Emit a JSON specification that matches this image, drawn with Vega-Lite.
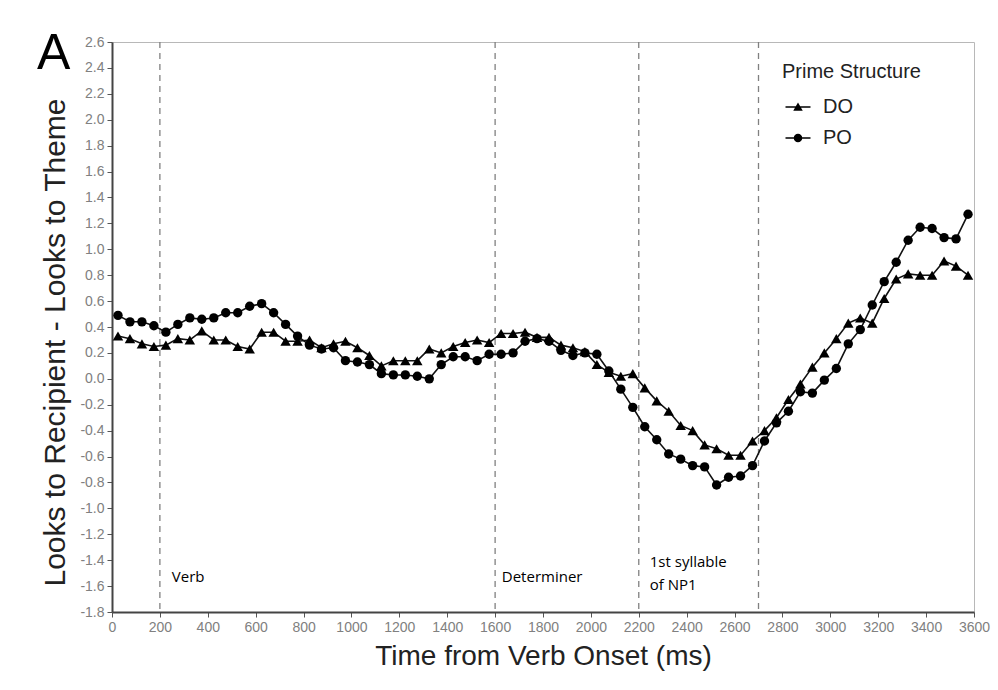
{
  "$schema": "https://vega.github.io/schema/vega-lite/v6.json",
  "width": 862,
  "height": 570,
  "autosize": "none",
  "padding": {"left": 112, "top": 42, "right": 24, "bottom": 78},
  "background": "white",
  "title": {"text": "A", "anchor": "start", "frame": "group", "font": "Liberation Sans", "fontSize": 50, "fontWeight": "normal", "color": "#000000", "baseline": "alphabetic", "offset": -84, "dx": -75},
  "data": {"values": [
    {"t": 25, "v": 0.33, "s": "DO"}, {"t": 75, "v": 0.31, "s": "DO"}, {"t": 125, "v": 0.27, "s": "DO"}, {"t": 175, "v": 0.25, "s": "DO"},
    {"t": 225, "v": 0.26, "s": "DO"}, {"t": 275, "v": 0.31, "s": "DO"}, {"t": 325, "v": 0.30, "s": "DO"}, {"t": 375, "v": 0.37, "s": "DO"},
    {"t": 425, "v": 0.30, "s": "DO"}, {"t": 475, "v": 0.30, "s": "DO"}, {"t": 525, "v": 0.25, "s": "DO"}, {"t": 575, "v": 0.23, "s": "DO"},
    {"t": 625, "v": 0.36, "s": "DO"}, {"t": 675, "v": 0.36, "s": "DO"}, {"t": 725, "v": 0.29, "s": "DO"}, {"t": 775, "v": 0.29, "s": "DO"},
    {"t": 825, "v": 0.30, "s": "DO"}, {"t": 875, "v": 0.24, "s": "DO"}, {"t": 925, "v": 0.27, "s": "DO"}, {"t": 975, "v": 0.29, "s": "DO"},
    {"t": 1025, "v": 0.24, "s": "DO"}, {"t": 1075, "v": 0.18, "s": "DO"}, {"t": 1125, "v": 0.10, "s": "DO"}, {"t": 1175, "v": 0.14, "s": "DO"},
    {"t": 1225, "v": 0.14, "s": "DO"}, {"t": 1275, "v": 0.14, "s": "DO"}, {"t": 1325, "v": 0.23, "s": "DO"}, {"t": 1375, "v": 0.20, "s": "DO"},
    {"t": 1425, "v": 0.25, "s": "DO"}, {"t": 1475, "v": 0.28, "s": "DO"}, {"t": 1525, "v": 0.30, "s": "DO"}, {"t": 1575, "v": 0.28, "s": "DO"},
    {"t": 1625, "v": 0.35, "s": "DO"}, {"t": 1675, "v": 0.35, "s": "DO"}, {"t": 1725, "v": 0.36, "s": "DO"}, {"t": 1775, "v": 0.32, "s": "DO"},
    {"t": 1825, "v": 0.32, "s": "DO"}, {"t": 1875, "v": 0.26, "s": "DO"}, {"t": 1925, "v": 0.24, "s": "DO"}, {"t": 1975, "v": 0.21, "s": "DO"},
    {"t": 2025, "v": 0.11, "s": "DO"}, {"t": 2075, "v": 0.05, "s": "DO"}, {"t": 2125, "v": 0.02, "s": "DO"}, {"t": 2175, "v": 0.04, "s": "DO"},
    {"t": 2225, "v": -0.07, "s": "DO"}, {"t": 2275, "v": -0.17, "s": "DO"}, {"t": 2325, "v": -0.25, "s": "DO"}, {"t": 2375, "v": -0.36, "s": "DO"},
    {"t": 2425, "v": -0.40, "s": "DO"}, {"t": 2475, "v": -0.51, "s": "DO"}, {"t": 2525, "v": -0.54, "s": "DO"}, {"t": 2575, "v": -0.59, "s": "DO"},
    {"t": 2625, "v": -0.59, "s": "DO"}, {"t": 2675, "v": -0.48, "s": "DO"}, {"t": 2725, "v": -0.40, "s": "DO"}, {"t": 2775, "v": -0.30, "s": "DO"},
    {"t": 2825, "v": -0.16, "s": "DO"}, {"t": 2875, "v": -0.04, "s": "DO"}, {"t": 2925, "v": 0.09, "s": "DO"}, {"t": 2975, "v": 0.20, "s": "DO"},
    {"t": 3025, "v": 0.31, "s": "DO"}, {"t": 3075, "v": 0.43, "s": "DO"}, {"t": 3125, "v": 0.47, "s": "DO"}, {"t": 3175, "v": 0.43, "s": "DO"},
    {"t": 3225, "v": 0.62, "s": "DO"}, {"t": 3275, "v": 0.77, "s": "DO"}, {"t": 3325, "v": 0.81, "s": "DO"}, {"t": 3375, "v": 0.80, "s": "DO"},
    {"t": 3425, "v": 0.80, "s": "DO"}, {"t": 3475, "v": 0.91, "s": "DO"}, {"t": 3525, "v": 0.87, "s": "DO"}, {"t": 3575, "v": 0.80, "s": "DO"},
    {"t": 25, "v": 0.49, "s": "PO"}, {"t": 75, "v": 0.44, "s": "PO"}, {"t": 125, "v": 0.44, "s": "PO"}, {"t": 175, "v": 0.41, "s": "PO"},
    {"t": 225, "v": 0.36, "s": "PO"}, {"t": 275, "v": 0.42, "s": "PO"}, {"t": 325, "v": 0.47, "s": "PO"}, {"t": 375, "v": 0.46, "s": "PO"},
    {"t": 425, "v": 0.47, "s": "PO"}, {"t": 475, "v": 0.51, "s": "PO"}, {"t": 525, "v": 0.51, "s": "PO"}, {"t": 575, "v": 0.56, "s": "PO"},
    {"t": 625, "v": 0.58, "s": "PO"}, {"t": 675, "v": 0.51, "s": "PO"}, {"t": 725, "v": 0.42, "s": "PO"}, {"t": 775, "v": 0.33, "s": "PO"},
    {"t": 825, "v": 0.26, "s": "PO"}, {"t": 875, "v": 0.23, "s": "PO"}, {"t": 925, "v": 0.24, "s": "PO"}, {"t": 975, "v": 0.14, "s": "PO"},
    {"t": 1025, "v": 0.13, "s": "PO"}, {"t": 1075, "v": 0.11, "s": "PO"}, {"t": 1125, "v": 0.04, "s": "PO"}, {"t": 1175, "v": 0.03, "s": "PO"},
    {"t": 1225, "v": 0.03, "s": "PO"}, {"t": 1275, "v": 0.02, "s": "PO"}, {"t": 1325, "v": 0.00, "s": "PO"}, {"t": 1375, "v": 0.11, "s": "PO"},
    {"t": 1425, "v": 0.17, "s": "PO"}, {"t": 1475, "v": 0.17, "s": "PO"}, {"t": 1525, "v": 0.14, "s": "PO"}, {"t": 1575, "v": 0.19, "s": "PO"},
    {"t": 1625, "v": 0.19, "s": "PO"}, {"t": 1675, "v": 0.20, "s": "PO"}, {"t": 1725, "v": 0.29, "s": "PO"}, {"t": 1775, "v": 0.31, "s": "PO"},
    {"t": 1825, "v": 0.29, "s": "PO"}, {"t": 1875, "v": 0.22, "s": "PO"}, {"t": 1925, "v": 0.18, "s": "PO"}, {"t": 1975, "v": 0.20, "s": "PO"},
    {"t": 2025, "v": 0.19, "s": "PO"}, {"t": 2075, "v": 0.06, "s": "PO"}, {"t": 2125, "v": -0.08, "s": "PO"}, {"t": 2175, "v": -0.22, "s": "PO"},
    {"t": 2225, "v": -0.37, "s": "PO"}, {"t": 2275, "v": -0.47, "s": "PO"}, {"t": 2325, "v": -0.58, "s": "PO"}, {"t": 2375, "v": -0.62, "s": "PO"},
    {"t": 2425, "v": -0.67, "s": "PO"}, {"t": 2475, "v": -0.68, "s": "PO"}, {"t": 2525, "v": -0.82, "s": "PO"}, {"t": 2575, "v": -0.76, "s": "PO"},
    {"t": 2625, "v": -0.75, "s": "PO"}, {"t": 2675, "v": -0.67, "s": "PO"}, {"t": 2725, "v": -0.48, "s": "PO"}, {"t": 2775, "v": -0.34, "s": "PO"},
    {"t": 2825, "v": -0.25, "s": "PO"}, {"t": 2875, "v": -0.10, "s": "PO"}, {"t": 2925, "v": -0.11, "s": "PO"}, {"t": 2975, "v": -0.01, "s": "PO"},
    {"t": 3025, "v": 0.08, "s": "PO"}, {"t": 3075, "v": 0.27, "s": "PO"}, {"t": 3125, "v": 0.38, "s": "PO"}, {"t": 3175, "v": 0.57, "s": "PO"},
    {"t": 3225, "v": 0.75, "s": "PO"}, {"t": 3275, "v": 0.90, "s": "PO"}, {"t": 3325, "v": 1.07, "s": "PO"}, {"t": 3375, "v": 1.17, "s": "PO"},
    {"t": 3425, "v": 1.16, "s": "PO"}, {"t": 3475, "v": 1.09, "s": "PO"}, {"t": 3525, "v": 1.08, "s": "PO"}, {"t": 3575, "v": 1.27, "s": "PO"}
  ]},
  "encoding": {
    "x": {"field": "t", "type": "quantitative", "title": "Time from Verb Onset (ms)",
      "scale": {"domain": [0, 3600], "nice": false, "zero": false},
      "axis": {"values": [0,200,400,600,800,1000,1200,1400,1600,1800,2000,2200,2400,2600,2800,3000,3200,3400,3600], "format": "d", "titlePadding": 8, "titleFontSize": 28, "labelOverlap": false, "labelFlush": false}}
  },
  "layer": [
    {
      "data": {"values": [{"t": 200}, {"t": 1600}, {"t": 2200}, {"t": 2700}]},
      "mark": {"type": "rule", "color": "#808080", "strokeWidth": 1.3, "strokeDash": [6, 5]},
      "encoding": {}
    },
    {
      "data": {"values": [
        {"t": 250, "v": -1.57, "label": "Verb"},
        {"t": 1628, "v": -1.57, "label": "Determiner"},
        {"t": 2246, "v": -1.455, "label": "1st syllable"},
        {"t": 2246, "v": -1.63, "label": "of NP1"}
      ]},
      "mark": {"type": "text", "align": "left", "baseline": "alphabetic", "font": "Open Sans", "fontSize": 15, "color": "#000000"},
      "encoding": {
        "y": {"field": "v", "type": "quantitative", "title": "Looks to Recipient - Looks to Theme",
          "scale": {"domain": [-1.8, 2.6], "nice": false, "zero": false},
          "axis": {"values": [-1.8,-1.6,-1.4,-1.2,-1.0,-0.8,-0.6,-0.4,-0.2,0,0.2,0.4,0.6,0.8,1.0,1.2,1.4,1.6,1.8,2.0,2.2,2.4,2.6],
            "labelExpr": "(datum.value < -0.001 ? '-' : '') + format(abs(datum.value), '.1f')", "labelOverlap": false, "labelFlush": false, "titlePadding": 9, "titleY": 300, "titleFontSize": 30}},
        "text": {"field": "label"}
      }
    },
    {
      "mark": {"type": "line", "color": "#111111", "strokeWidth": 1.6},
      "encoding": {
        "y": {"field": "v", "type": "quantitative", "title": "Looks to Recipient - Looks to Theme",
          "scale": {"domain": [-1.8, 2.6], "nice": false, "zero": false},
          "axis": {"values": [-1.8,-1.6,-1.4,-1.2,-1.0,-0.8,-0.6,-0.4,-0.2,0,0.2,0.4,0.6,0.8,1.0,1.2,1.4,1.6,1.8,2.0,2.2,2.4,2.6],
            "labelExpr": "(datum.value < -0.001 ? '-' : '') + format(abs(datum.value), '.1f')", "labelOverlap": false, "labelFlush": false, "titlePadding": 9, "titleY": 300, "titleFontSize": 30}},
        "detail": {"field": "s"}
      }
    },
    {
      "transform": [{"filter": "datum.s == 'DO'"}],
      "mark": {"type": "point", "shape": "triangle-up", "filled": true, "color": "#000000", "size": 110, "opacity": 1},
      "encoding": {
        "y": {"field": "v", "type": "quantitative", "title": "Looks to Recipient - Looks to Theme",
          "scale": {"domain": [-1.8, 2.6], "nice": false, "zero": false},
          "axis": {"values": [-1.8,-1.6,-1.4,-1.2,-1.0,-0.8,-0.6,-0.4,-0.2,0,0.2,0.4,0.6,0.8,1.0,1.2,1.4,1.6,1.8,2.0,2.2,2.4,2.6],
            "labelExpr": "(datum.value < -0.001 ? '-' : '') + format(abs(datum.value), '.1f')", "labelOverlap": false, "labelFlush": false, "titlePadding": 9, "titleY": 300, "titleFontSize": 30}}
      }
    },
    {
      "transform": [{"filter": "datum.s == 'PO'"}],
      "mark": {"type": "point", "shape": "circle", "filled": true, "color": "#000000", "size": 88, "opacity": 1},
      "encoding": {
        "y": {"field": "v", "type": "quantitative", "title": "Looks to Recipient - Looks to Theme",
          "scale": {"domain": [-1.8, 2.6], "nice": false, "zero": false},
          "axis": {"values": [-1.8,-1.6,-1.4,-1.2,-1.0,-0.8,-0.6,-0.4,-0.2,0,0.2,0.4,0.6,0.8,1.0,1.2,1.4,1.6,1.8,2.0,2.2,2.4,2.6],
            "labelExpr": "(datum.value < -0.001 ? '-' : '') + format(abs(datum.value), '.1f')", "labelOverlap": false, "labelFlush": false, "titlePadding": 9, "titleY": 300, "titleFontSize": 30}}
      }
    },
    {
      "transform": [{"filter": "false"}],
      "mark": {"type": "point", "filled": true, "color": "#000000", "opacity": 1},
      "encoding": {
        "y": {"field": "v", "type": "quantitative", "title": "Looks to Recipient - Looks to Theme",
          "scale": {"domain": [-1.8, 2.6], "nice": false, "zero": false},
          "axis": {"values": [-1.8,-1.6,-1.4,-1.2,-1.0,-0.8,-0.6,-0.4,-0.2,0,0.2,0.4,0.6,0.8,1.0,1.2,1.4,1.6,1.8,2.0,2.2,2.4,2.6],
            "labelExpr": "(datum.value < -0.001 ? '-' : '') + format(abs(datum.value), '.1f')", "labelOverlap": false, "labelFlush": false, "titlePadding": 9, "titleY": 300, "titleFontSize": 30}},
        "shape": {"field": "s", "type": "nominal",
          "scale": {"domain": ["DO", "PO"], "range": [
            "M-2.5,-0.13H2.5V0.13H-2.5ZM0,-0.9L0.95,0.75L-0.95,0.75Z",
            "M-2.5,-0.13H2.5V0.13H-2.5ZM0.85,0A0.85,0.85 0 1 1 -0.85,0A0.85,0.85 0 1 1 0.85,0Z"]},
          "legend": {"title": "Prime Structure", "orient": "none", "legendX": 670, "legendY": 20,
            "titleFont": "Liberation Sans", "titleFontSize": 20, "titleFontWeight": "normal", "titleColor": "#222222", "titlePadding": 15,
            "labelFont": "Liberation Sans", "labelFontSize": 20, "labelColor": "#222222", "labelOffset": 15,
            "symbolSize": 100, "symbolOffset": 6, "rowPadding": 11,
            "symbolFillColor": "#000000", "symbolStrokeColor": "#000000", "symbolStrokeWidth": 0, "symbolOpacity": 1}}
      }
    }
  ],
  "config": {
    "view": {"stroke": "#b8b8b8", "strokeWidth": 1},
    "axis": {"grid": false, "domainColor": "#444444", "domainWidth": 2, "tickColor": "#555555", "tickSize": 5, "tickWidth": 1,
      "labelColor": "#808080", "labelFont": "Liberation Sans", "labelFontSize": 14, "labelPadding": 3,
      "titleFont": "Liberation Sans", "titleFontSize": 27, "titleFontWeight": "normal", "titleColor": "#222222"}
  }
}
